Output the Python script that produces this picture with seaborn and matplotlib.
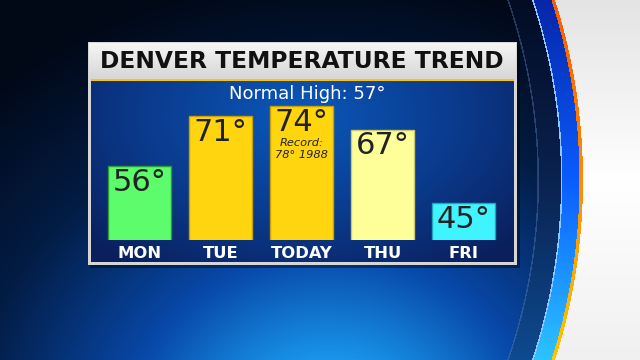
import numpy as np
import pandas as pd
import matplotlib
matplotlib.use("Agg")
import matplotlib.pyplot as plt
import seaborn as sns
from matplotlib.colors import LinearSegmentedColormap

# ---------------- data ----------------
days = ["MON", "TUE", "TODAY", "THU", "FRI"]
highs = [56, 71, 74, 67, 45]
bar_colors = ["#5dfc6c", "#ffd510", "#ffd510", "#ffff99", "#40f4ff"]
edge_colors = ["#2f9a3c", "#c9a000", "#c9a000", "#c8c870", "#20a8b8"]
title = "DENVER TEMPERATURE TREND"
subtitle = "Normal High: 57°"
record_day = "TODAY"
record_lines = ["Record:", "78° 1988"]

# ---------------- figure ----------------
W, H = 640, 360
sns.set_theme(style="white")
plt.rcParams["font.family"] = ["DejaVu Sans"]
fig = plt.figure(figsize=(W / 100, H / 100), dpi=100)

# ---------------- background image (decoration) ----------------
yy, xx = np.mgrid[0:H, 0:W] + 0.5

def cmap(stops):
    return LinearSegmentedColormap.from_list("c", stops)

bg_cm = cmap([(0, "#010816"), (0.3, "#031c44"), (0.6, "#0848a8"),
              (0.85, "#1a9cf0"), (1, "#34ccff")])
d = np.hypot((xx - 330) / 1.1, yy - 440)
t = np.clip(1 - d / 470, 0, 1)
img = bg_cm(t)[..., :3]

# big circle edge on the right
R = 593.0
rc = np.hypot(xx + 10, yy - 180)
vy = yy / H
white_cm = cmap([(0, "#e4e4e4"), (0.5, "#ffffff"), (1, "#f0f0f0")])
orange_cm = cmap([(0, "#ff5a00"), (0.5, "#ff8c00"), (1, "#ffc400")])
band_cm = cmap([(0, "#0626a8"), (0.5, "#0a5cff"), (1, "#2cc4ff")])
inner_cm = cmap([(0, "#030c24"), (0.5, "#0a2250"), (1, "#0e4a90")])

m = (rc > R - 45) & (rc <= R - 21)
img[m] = inner_cm(vy[m])[:, :3]
m = (rc > R - 45.5) & (rc <= R - 44)
img[m] = img[m] * 0.6 + 0.4 * np.array([0.35, 0.5, 0.75])
m = (rc > R - 21) & (rc <= R - 3.5)
img[m] = band_cm(vy[m])[:, :3]
m = (rc > R - 22) & (rc <= R - 20.5)
img[m] = np.array([0.55, 0.78, 1.0])
m = (rc > R - 3.5) & (rc <= R)
img[m] = orange_cm(vy[m])[:, :3]
m = rc > R
img[m] = white_cm(vy[m])[:, :3]

# panel: shadow, frame, title band, gold line, blue panel
def box(x0, x1, y0, y1):
    return (xx >= x0) & (xx < x1) & (yy >= y0) & (yy < y1)

m = box(90, 520, 44, 268)
img[m] = img[m] * 0.6
m = box(88, 517, 42, 265)
img[m] = np.array([0.84, 0.84, 0.84])
m = box(89, 516, 43, 79)
tb = cmap([(0, "#f6f6f6"), (1, "#d6d6d6")])
img[m] = tb(((yy[m] - 43) / 36))[:, :3]
m = box(91, 514, 79, 81)
img[m] = np.array([1.0, 0.77, 0.0])
m = box(91, 514, 81, 262)
pc = cmap([(0, "#0a1f5c"), (0.45, "#0a3a8c"), (1, "#0b58ba")])
dp = np.hypot((xx[m] - 300) / 290, (yy[m] - 115) / 190)
img[m] = pc(np.clip(1 - dp, 0, 1))[:, :3]

ax_bg = fig.add_axes([0, 0, 1, 1], zorder=0)
ax_bg.imshow(img, extent=(0, W, H, 0), aspect="auto", interpolation="bilinear")
ax_bg.set_xlim(0, W)
ax_bg.set_ylim(H, 0)
ax_bg.axis("off")

# ---------------- bar chart ----------------
df = pd.DataFrame({"day": days, "high": highs})
ax = fig.add_axes([99 / W, 1 - 240 / H, 405 / W, 159 / H], zorder=1)
ax.set_facecolor("none")
sns.barplot(data=df, x="day", y="high", hue="day", order=days, hue_order=days,
            palette=dict(zip(days, bar_colors)), legend=False, width=0.78,
            saturation=1, linewidth=1.0, ax=ax)
for cont, ec in zip(ax.containers, edge_colors):
    for p in cont:
        p.set_edgecolor(ec)
ax.set_ylim(34, 81.5)
ax.set_xlim(-0.5, len(days) - 0.5)
for s in ax.spines.values():
    s.set_visible(False)
ax.set_xlabel("")
ax.set_ylabel("")
ax.set_yticks([])
ax.tick_params(axis="x", length=0, pad=4)
for lab in ax.get_xticklabels():
    lab.set_color("white")
    lab.set_fontweight("bold")
    lab.set_fontsize(11.8)

for i, (dname, v) in enumerate(zip(days, highs)):
    ax.text(i, v - 0.5, f"{v}°", ha="center", va="top", fontsize=22,
            color="#222222")
    if dname == record_day:
        ax.text(i, v - 10.9, record_lines[0], ha="center", va="center",
                fontsize=8.2, style="italic", color="#222222")
        ax.text(i, v - 14.5, record_lines[1], ha="center", va="center",
                fontsize=8.2, style="italic", color="#222222")

fig.text(302 / W, 1 - 61 / H, title, ha="center", va="center",
         fontsize=16.8, fontweight="bold", color="#111111", zorder=3)
fig.text(307 / W, 1 - 94 / H, subtitle, ha="center", va="center",
         fontsize=13, color="white", zorder=3)

fig.savefig("out.png", dpi=100)
